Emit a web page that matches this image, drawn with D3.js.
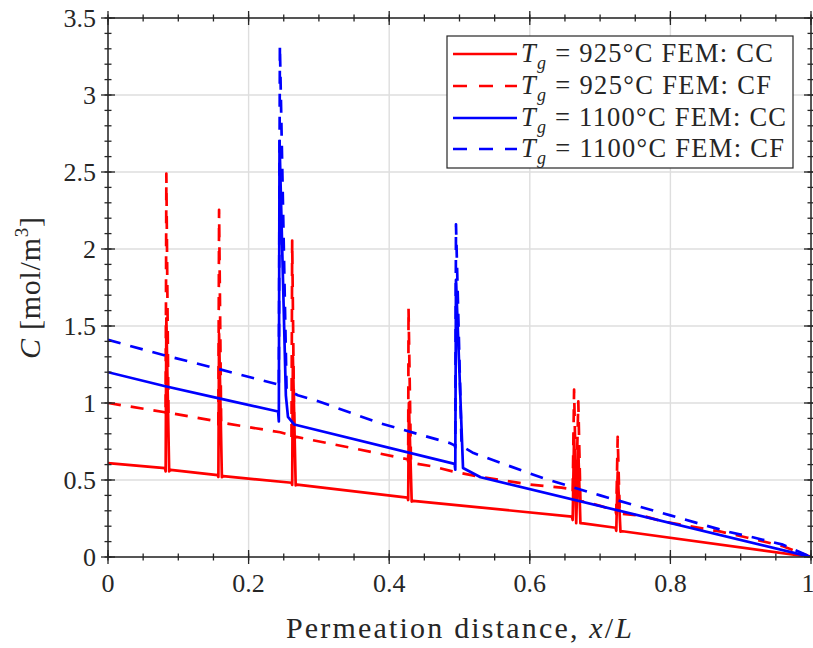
<!DOCTYPE html>
<html>
<head>
<meta charset="utf-8">
<script src="https://cdn.jsdelivr.net/npm/d3@7"></script>
<style>
  html, body { margin: 0; padding: 0; background: #fff; }
  svg { display: block; }
  text { font-family: "Liberation Serif", "DejaVu Serif", serif; fill: #262626; }
</style>
</head>
<body>
<svg id="chart" width="813" height="648"></svg>
<script>
// ---------------- DATA ----------------
const xTicks = [0, 0.2, 0.4, 0.6, 0.8, 1];
const xTickLabels = ["0", "0.2", "0.4", "0.6", "0.8", "1"];
const yTicks = [0, 0.5, 1, 1.5, 2, 2.5, 3, 3.5];
const yTickLabels = ["0", "0.5", "1", "1.5", "2", "2.5", "3", "3.5"];

const seriesNames = ["925°C FEM: CC", "925°C FEM: CF", "1100°C FEM: CC", "1100°C FEM: CF"];

// T_g = 925 °C, continuous concentration
const red925CC = [
  [0, 0.61], [0.081, 0.577], [0.082, 0.556], [0.083, 1.55], [0.087, 0.556], [0.089, 0.566],
  [0.156, 0.532], [0.157, 0.52], [0.158, 1.45], [0.162, 0.518], [0.164, 0.525],
  [0.261, 0.482], [0.262, 0.468], [0.263, 1.3], [0.267, 0.465], [0.269, 0.47],
  [0.426, 0.385], [0.427, 0.37], [0.428, 1.0], [0.432, 0.36], [0.434, 0.365],
  [0.66, 0.262], [0.661, 0.24], [0.663, 0.8], [0.666, 0.22], [0.669, 0.7], [0.672, 0.22], [0.676, 0.218],
  [0.722, 0.19], [0.723, 0.17], [0.725, 0.55], [0.729, 0.165], [0.732, 0.167],
  [1, 0]
];
// T_g = 925 °C, CF
const red925CF = [
  [0, 1.0], [0.081, 0.94], [0.082, 0.92], [0.083, 2.49], [0.086, 0.92], [0.089, 0.935],
  [0.156, 0.88], [0.157, 0.86], [0.158, 2.255], [0.161, 0.86], [0.164, 0.87],
  [0.245, 0.81], [0.26, 0.79], [0.261, 0.77], [0.262, 2.055], [0.265, 0.77], [0.268, 0.78],
  [0.41, 0.65], [0.426, 0.635], [0.427, 0.62], [0.4275, 1.617], [0.431, 0.61], [0.434, 0.61],
  [0.46, 0.59], [0.49, 0.556], [0.53, 0.52], [0.6, 0.47], [0.645, 0.45],
  [0.66, 0.44], [0.661, 0.42], [0.663, 1.087], [0.666, 0.4], [0.669, 1.01], [0.672, 0.37], [0.676, 0.36],
  [0.70, 0.333], [0.722, 0.30], [0.723, 0.28], [0.725, 0.78], [0.728, 0.275], [0.731, 0.28],
  [0.76, 0.268], [0.79, 0.23], [0.87, 0.166], [0.91, 0.125], [0.96, 0.07], [1, 0]
];
// T_g = 1100 °C, CC
const blue1100CC = [
  [0, 1.2], [0.08, 1.11], [0.158, 1.03], [0.242, 0.945], [0.243, 0.88], [0.244, 2.7],
  [0.253, 1.05], [0.256, 0.91], [0.265, 0.86], [0.493, 0.605], [0.494, 0.567], [0.495, 1.8],
  [0.505, 0.578], [0.53, 0.518], [1, 0]
];
// T_g = 1100 °C, CF
const blue1100CF = [
  [0, 1.41], [0.08, 1.31], [0.158, 1.22], [0.242, 1.12], [0.243, 1.10], [0.2445, 3.32],
  [0.254, 1.09], [0.27, 1.05], [0.3, 1.01], [0.386, 0.87], [0.486, 0.74], [0.493, 0.725],
  [0.494, 0.71], [0.495, 2.16], [0.503, 0.72], [0.52, 0.675], [0.62, 0.51], [0.7, 0.40],
  [0.8, 0.27], [0.88, 0.166], [0.92, 0.125], [0.96, 0.08], [1, 0]
];

const seriesData = [red925CC, red925CF, blue1100CC, blue1100CF];
const seriesColors = ["#ff0000", "#ff0000", "#0000ff", "#0000ff"];
const seriesDashed = [false, true, false, true];

// ---------------- LAYOUT ----------------
const svg = d3.select("#chart");
const L = 108, R = 811, T = 18, B = 557;
const x = d3.scaleLinear().domain([0, 1]).range([L, R]);
const y = d3.scaleLinear().domain([0, 3.5]).range([B, T]);
const axisColor = "#262626";

// grid
const grid = svg.append("g");
grid.selectAll("line.gx").data(xTicks).join("line")
  .attr("x1", d => x(d)).attr("x2", d => x(d)).attr("y1", T).attr("y2", B)
  .attr("stroke", "#dedede").attr("stroke-width", 1.4);
grid.selectAll("line.gy").data(yTicks).join("line")
  .attr("y1", d => y(d)).attr("y2", d => y(d)).attr("x1", L).attr("x2", R)
  .attr("stroke", "#dedede").attr("stroke-width", 1.4);

// data lines
const clipId = "plotclip";
svg.append("clipPath").attr("id", clipId).append("rect")
  .attr("x", L).attr("y", T - 2).attr("width", R - L).attr("height", B - T + 2);
const line = d3.line().x(d => x(d[0])).y(d => y(d[1]));
const lines = svg.append("g").attr("clip-path", `url(#${clipId})`);
seriesData.forEach((s, i) => {
  lines.append("path").datum(s)
    .attr("d", line)
    .attr("fill", "none")
    .attr("stroke", seriesColors[i])
    .attr("stroke-width", 2.7)
    .attr("stroke-linejoin", "round")
    .attr("stroke-dasharray", seriesDashed[i] ? "13,10" : null);
});

// axes with ticks both ways
const ax = svg.append("g");
const xMinor = d3.range(0, 1.0001, 0.05);
const yMinor = d3.range(0, 3.5001, 0.1);
function tickLines(vals, len, isX) {
  vals.forEach(v => {
    if (isX) {
      [B, T].forEach(yy => ax.append("line")
        .attr("x1", x(v)).attr("x2", x(v)).attr("y1", yy - len).attr("y2", yy + len)
        .attr("stroke", axisColor).attr("stroke-width", 1.3));
    } else {
      [L, R].forEach(xx => ax.append("line")
        .attr("y1", y(v)).attr("y2", y(v)).attr("x1", xx - len).attr("x2", xx + len)
        .attr("stroke", axisColor).attr("stroke-width", 1.3));
    }
  });
}
tickLines(xMinor, 3.5, true);
tickLines(xTicks, 7, true);
tickLines(yMinor, 3.5, false);
tickLines(yTicks, 7, false);
ax.append("rect").attr("x", L).attr("y", T).attr("width", R - L).attr("height", B - T)
  .attr("fill", "none").attr("stroke", axisColor).attr("stroke-width", 1.5);

// tick labels
svg.append("g").selectAll("text").data(xTicks).join("text")
  .attr("x", d => x(d) - (d === 1 ? 3 : 0)).attr("y", 592)
  .attr("text-anchor", "middle").attr("font-size", 26)
  .text((d, i) => xTickLabels[i]);
svg.append("g").selectAll("text").data(yTicks).join("text")
  .attr("x", 96).attr("y", d => y(d) + 8.5)
  .attr("text-anchor", "end").attr("font-size", 26)
  .text((d, i) => yTickLabels[i]);

// axis labels
const xl = svg.append("text").attr("x", 459).attr("y", 638)
  .attr("text-anchor", "middle").attr("font-size", 30)
  .attr("textLength", 346).attr("lengthAdjust", "spacing");
xl.append("tspan").text("Permeation distance, ");
xl.append("tspan").attr("font-style", "italic").text("x");
xl.append("tspan").text("/");
xl.append("tspan").attr("font-style", "italic").text("L");

const yl = svg.append("text").attr("transform", "translate(40,288) rotate(-90)")
  .attr("text-anchor", "middle").attr("font-size", 30)
  .attr("textLength", 142).attr("lengthAdjust", "spacing");
yl.append("tspan").attr("font-style", "italic").text("C");
yl.append("tspan").text(" [mol/m");
yl.append("tspan").attr("font-size", 19).attr("dy", -12).text("3");
yl.append("tspan").attr("dy", 12).text("]");

// legend
const lg = svg.append("g");
lg.append("rect").attr("x", 447).attr("y", 36).attr("width", 346).attr("height", 132)
  .attr("fill", "#fff").attr("stroke", axisColor).attr("stroke-width", 1.2);
const rowY = [54, 86, 118, 149];
const rowLen = [252, 250, 265, 263];
seriesNames.forEach((name, i) => {
  lg.append("line").attr("x1", 453).attr("x2", 517).attr("y1", rowY[i]).attr("y2", rowY[i])
    .attr("stroke", seriesColors[i]).attr("stroke-width", 2.7)
    .attr("stroke-dasharray", seriesDashed[i] ? "14,12" : null);
  const t = lg.append("text").attr("x", 521).attr("y", rowY[i] + 8).attr("font-size", 26.5)
    .attr("textLength", rowLen[i]).attr("lengthAdjust", "spacing");
  t.append("tspan").attr("font-style", "italic").text("T");
  t.append("tspan").attr("font-style", "italic").attr("font-size", 18).attr("dy", 7).text("g");
  t.append("tspan").attr("dy", -7).text(" = " + name);
});
</script>
</body>
</html>
